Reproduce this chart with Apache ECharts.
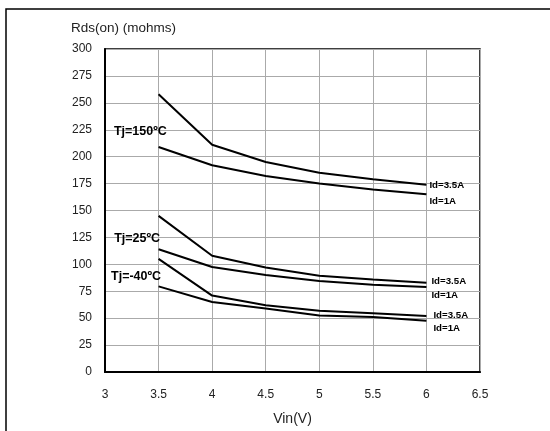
<!DOCTYPE html>
<html><head><meta charset="utf-8">
<script src="https://cdn.jsdelivr.net/npm/echarts@6/dist/echarts.min.js"></script>
<style>html,body{margin:0;padding:0;background:#fff}#c{width:550px;height:431px}</style>
</head><body><div id="c"></div>
<script>
const vin = [3.5, 4, 4.5, 5, 5.5, 6];
const t150_id35 = [258, 211, 195, 185, 179, 174];
const t150_id1  = [209, 192, 182, 175, 169.5, 165];
const t25_id35  = [145, 108, 97, 89.5, 86, 83];
const t25_id1   = [114, 97.5, 90, 84.5, 81, 79];
const tm40_id35 = [105, 71, 62, 57, 54.5, 52];
const tm40_id1  = [79.5, 65, 59, 52.5, 51, 47.5];
const xTicks = [3, 3.5, 4, 4.5, 5, 5.5, 6, 6.5];
const yTicks = [0, 25, 50, 75, 100, 125, 150, 175, 200, 225, 250, 275, 300];
const tempLabels = [
  {name: 'Tj=150ºC', coord: [3.33, 223]},
  {name: 'Tj=25ºC', coord: [3.30, 124]},
  {name: 'Tj=-40ºC', coord: [3.29, 89]}
];

const font = 'Liberation Sans, Arial, Helvetica, sans-serif';
function pts(arr){ return vin.map((v,i)=>[v, arr[i]]); }
function mk(name, arr, label, dy, dx, mp){
  const s = {
    name, type: 'line', data: pts(arr), symbol: 'none', silent: true,
    lineStyle: {color: '#000', width: 2},
    endLabel: {show: true, formatter: label, fontFamily: font, fontWeight: 'bold',
      fontSize: 9.7, color: '#000', offset: [dx, dy], distance: 2}
  };
  if (mp) {
    s.markPoint = {symbol: 'circle', symbolSize: 0, silent: true,
      label: {show: true, position: 'inside', formatter: '{b}', fontFamily: font,
        fontWeight: 'bold', fontSize: 12.5, color: '#000'},
      data: [mp]};
  }
  return s;
}
const chart = echarts.init(document.getElementById('c'), null, {renderer: 'canvas'});
chart.setOption({
  animation: false,
  backgroundColor: '#fff',
  graphic: [{type: 'rect', shape: {x: 6, y: 9, width: 700, height: 600},
    style: {fill: 'none', stroke: '#000', lineWidth: 1.5}, silent: true}],
  grid: {left: 105, right: 70, top: 49, bottom: 58, show: true, borderColor: '#000', borderWidth: 1.5, backgroundColor: 'transparent'},
  xAxis: {
    type: 'value', min: 3, max: 6.5, interval: 0.5,
    name: 'Vin(V)', nameLocation: 'middle', nameGap: 40,
    nameTextStyle: {fontFamily: font, fontSize: 14, color: '#222'},
    axisLine: {show: true, lineStyle: {color: '#000', width: 2}},
    axisTick: {show: false},
    axisLabel: {fontFamily: font, fontSize: 12, color: '#222', margin: 17,
      formatter: v => xTicks.includes(v) ? String(v) : ''},
    splitLine: {show: true, lineStyle: {color: '#aaa', width: 1}}
  },
  yAxis: {
    type: 'value', min: 0, max: 300, interval: 25,
    name: 'Rds(on) (mohms)', nameLocation: 'end', nameGap: 14,
    nameTextStyle: {fontFamily: font, fontSize: 13.5, color: '#222', align: 'left', padding: [0, 0, 0, -34]},
    axisLine: {show: true, lineStyle: {color: '#000', width: 2}},
    axisTick: {show: false},
    axisLabel: {fontFamily: font, fontSize: 12, color: '#222', margin: 13,
      formatter: v => yTicks.includes(v) ? String(v) : ''},
    splitLine: {show: true, lineStyle: {color: '#aaa', width: 1}}
  },
  series: [
    mk('t150_35', t150_id35, 'Id=3.5A', 1, 1, tempLabels[0]),
    mk('t150_1', t150_id1, 'Id=1A', 7, 1),
    mk('t25_35', t25_id35, 'Id=3.5A', -1, 3, tempLabels[1]),
    mk('t25_1', t25_id1, 'Id=1A', 8, 3),
    mk('tm40_35', tm40_id35, 'Id=3.5A', -1, 5, tempLabels[2]),
    mk('tm40_1', tm40_id1, 'Id=1A', 7, 5)
  ]
});
</script>
</body></html>
